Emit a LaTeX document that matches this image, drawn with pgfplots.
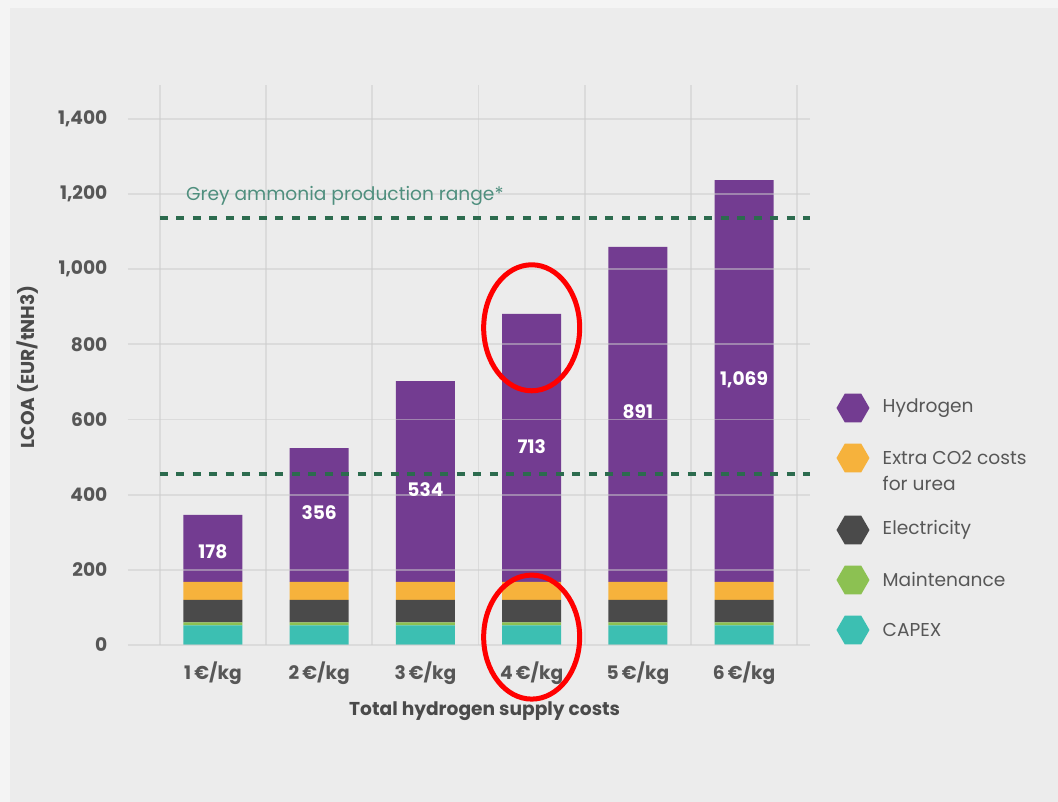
\documentclass[border=0pt]{standalone}
\usepackage{fontspec}
\setmainfont{Poppins}
\usepackage{pgfplots}
\pgfplotsset{compat=1.18}
\usetikzlibrary{shapes.geometric}

\definecolor{bgout}{HTML}{F4F4F4}
\definecolor{bgin}{HTML}{ECECEC}
\definecolor{hyd}{HTML}{733C91}
\definecolor{co2}{HTML}{F6B23C}
\definecolor{elec}{HTML}{4A4A4A}
\definecolor{maint}{HTML}{8CC152}
\definecolor{capex}{HTML}{3CBFB2}
\definecolor{dgreen}{HTML}{2C6B4E}
\definecolor{tgreen}{HTML}{4F8F7E}
\definecolor{txt}{HTML}{575757}
\definecolor{gridc}{HTML}{CCCCCC}

\newcommand{\tickfont}{\fontsize{5.3}{6.2}\selectfont\bfseries}
\newcommand{\legfont}{\fontsize{5.3}{7.4}\selectfont}

\begin{document}
\begin{tikzpicture}
\fill[bgout] (0,0) rectangle (105.8mm,80.2mm);
\fill[bgin] (1mm,0) rectangle (105.8mm,79.4mm);

\begin{axis}[
  at={(12.8mm,15.7mm)}, anchor=south west,
  scale only axis, width=68.2mm, height=56mm,
  xmin=-0.8, xmax=5.62, ymin=0, ymax=1490,
  ybar stacked, bar width=5.9mm,
  axis line style={draw=none},
  major tick length=0pt, minor tick length=0pt,
  xtick={0,1,2,3,4,5},
  xticklabels={1\,€/kg,2\,€/kg,3\,€/kg,4\,€/kg,5\,€/kg,6\,€/kg},
  ytick={0,200,400,600,800,1000,1200,1400},
  /pgf/number format/assume math mode=true,
  /pgf/number format/1000 sep={,},
  yticklabel style={font=\tickfont, text=txt, anchor=east, inner sep=0pt, xshift=-2mm},
  xticklabel style={font=\tickfont, text=txt, anchor=north, inner sep=0pt, yshift=-1.6mm},
  xlabel={Total hydrogen supply costs},
  ylabel={LCOA (EUR/tNH3)},
  xlabel style={font=\tickfont, text=elec, at={(rel axis cs:0.523,-0.118)}, anchor=center},
  ylabel style={font=\tickfont, text=elec, at={(rel axis cs:-0.147,0.496)}, anchor=center},
]
\addplot[fill=capex, draw=none] coordinates {(0,52) (1,52) (2,52) (3,52) (4,52) (5,52)};
\addplot[fill=maint, draw=none] coordinates {(0,8) (1,8) (2,8) (3,8) (4,8) (5,8)};
\addplot[fill=elec, draw=none] coordinates {(0,60) (1,60) (2,60) (3,60) (4,60) (5,60)};
\addplot[fill=co2, draw=none] coordinates {(0,48) (1,48) (2,48) (3,48) (4,48) (5,48)};
\addplot[fill=hyd, draw=none] coordinates {(0,178) (1,356) (2,534) (3,713) (4,891) (5,1069)};
\end{axis}

% grid lines drawn over the bars (as in the reference)
\foreach \v in {0,200,...,1400}
  \draw[gridc, opacity=0.5, line width=0.18mm] (12.8mm,{15.7mm+\v*0.037584mm}) -- (81mm,{15.7mm+\v*0.037584mm});
\foreach \x in {-0.5,0.5,1.5,2.5,3.5,4.5,5.5}
  \draw[gridc, opacity=0.5, line width=0.18mm] ({12.8mm+(\x+0.8)*10.623mm},15.7mm) -- ({12.8mm+(\x+0.8)*10.623mm},71.7mm);

\begin{axis}[
  at={(12.8mm,15.7mm)}, anchor=south west,
  scale only axis, width=68.2mm, height=56mm,
  xmin=-0.8, xmax=5.62, ymin=0, ymax=1490,
  clip=false, hide axis,
]
\addplot[dgreen, line width=0.4mm, dash pattern=on 0.8mm off 0.85mm] coordinates {(-0.5,1137) (5.62,1137)};
\addplot[dgreen, line width=0.4mm, dash pattern=on 0.8mm off 0.85mm] coordinates {(-0.5,455) (5.62,455)};
\addplot[draw=none, mark=none, nodes near coords, point meta=explicit symbolic,
  nodes near coords style={anchor=center, text=white, font=\tickfont}]
  coordinates {(0,247)[178] (1,351)[356] (2,413)[534] (3,527)[713] (4,620)[891] (5,705)[{1,069}]};
\node[anchor=west, text=tgreen, font=\legfont, inner sep=0pt] at (axis cs:-0.26,1195) {Grey ammonia production range*};
\draw[red, line width=0.5mm] (axis cs:3,844) ellipse [x radius=4.8mm, y radius=6.3mm];
\draw[red, line width=0.5mm] (axis cs:3,21) ellipse [x radius=4.8mm, y radius=6.2mm];
\end{axis}

% legend
\foreach \c/\yy in {hyd/408, co2/458, elec/530, maint/580, capex/630}
  \node[regular polygon, regular polygon sides=6, fill=\c, minimum size=3.3mm, inner sep=0pt] at (85.3mm,{(802-\yy)*0.1mm}) {};
\node[anchor=west, font=\legfont, text=txt, inner sep=0pt] at (88.2mm,{(802-408)*0.1mm}) {Hydrogen};
\node[anchor=west, font=\legfont, text=txt, inner sep=0pt, align=left] at (88.2mm,{(802-471)*0.1mm}) {Extra CO2 costs\\for urea};
\node[anchor=west, font=\legfont, text=txt, inner sep=0pt] at (88.2mm,{(802-530)*0.1mm}) {Electricity};
\node[anchor=west, font=\legfont, text=txt, inner sep=0pt] at (88.2mm,{(802-580)*0.1mm}) {Maintenance};
\node[anchor=west, font=\legfont, text=txt, inner sep=0pt] at (88.2mm,{(802-630)*0.1mm}) {CAPEX};
\end{tikzpicture}
\end{document}
